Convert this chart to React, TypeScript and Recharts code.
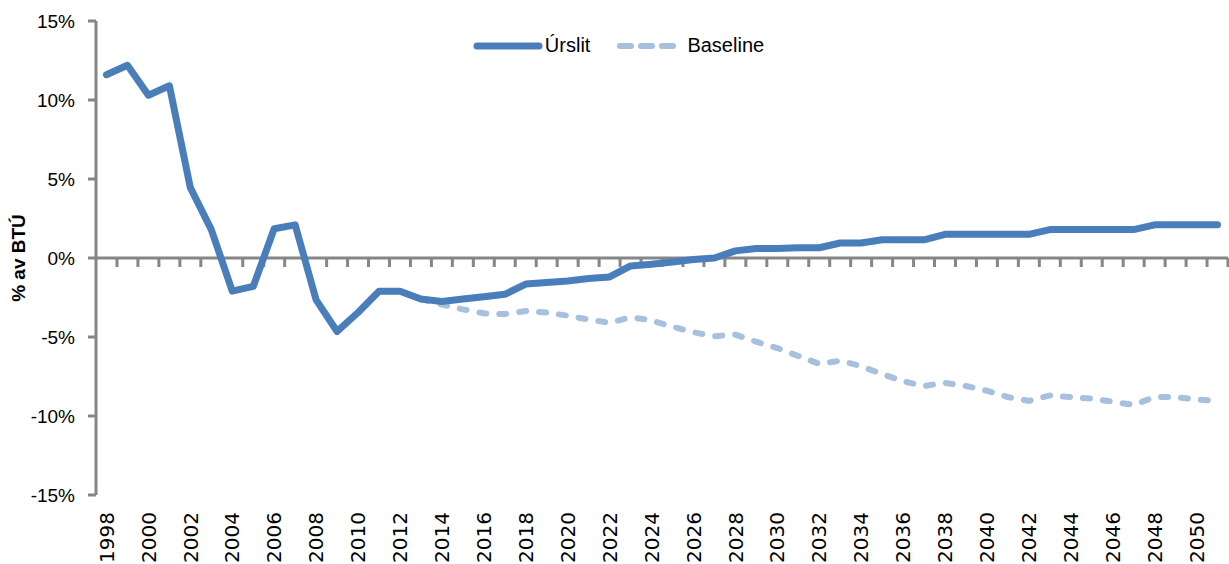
import { LineChart, Line, XAxis, YAxis, ReferenceLine, Legend } from 'recharts';

const years = [
  '1998', '1999', '2000', '2001', '2002', '2003', '2004', '2005', '2006', '2007',
  '2008', '2009', '2010', '2011', '2012', '2013', '2014', '2015', '2016', '2017',
  '2018', '2019', '2020', '2021', '2022', '2023', '2024', '2025', '2026', '2027',
  '2028', '2029', '2030', '2031', '2032', '2033', '2034', '2035', '2036', '2037',
  '2038', '2039', '2040', '2041', '2042', '2043', '2044', '2045', '2046', '2047',
  '2048', '2049', '2050', '2051',
];

// Úrslit (solid)
const urslit = [
  11.6, 12.2, 10.3, 10.9, 4.45, 1.8, -2.1, -1.8, 1.85, 2.1,
  -2.65, -4.65, -3.45, -2.1, -2.1, -2.6, -2.75, -2.6, -2.45, -2.3,
  -1.65, -1.55, -1.45, -1.3, -1.2, -0.5, -0.4, -0.25, -0.1, 0.0,
  0.45, 0.6, 0.6, 0.65, 0.65, 0.95, 0.95, 1.15, 1.15, 1.15,
  1.5, 1.5, 1.5, 1.5, 1.5, 1.8, 1.8, 1.8, 1.8, 1.8,
  2.1, 2.1, 2.1, 2.1,
];

// Baseline (dashed), starts in 2013
const baseline = [
  null, null, null, null, null, null, null, null, null, null,
  null, null, null, null, null, -2.6, -2.95, -3.25, -3.5, -3.55,
  -3.35, -3.45, -3.65, -3.9, -4.1, -3.75, -3.95, -4.35, -4.7, -4.95,
  -4.85, -5.3, -5.7, -6.2, -6.7, -6.5, -6.85, -7.35, -7.8, -8.1,
  -7.9, -8.1, -8.4, -8.8, -9.05, -8.7, -8.8, -8.9, -9.1, -9.3,
  -8.8, -8.8, -8.95, -9.05,
];

const yTicks = [-15, -10, -5, 0, 5, 10, 15];

const SOLID = '#4a7ebb';
const DASHED = '#a7c0de';
const AXIS = '#868686';

const data = years.map((year, i) => ({ year, urslit: urslit[i], baseline: baseline[i] }));

// zero line with the category tick marks hanging below it
const ZeroAxis = (props: any) => {
  const { x1, y1, x2, y2 } = props;
  const left = Math.min(x1, x2);
  const right = Math.max(x1, x2);
  const n = years.length;
  const step = (right - left) / n;
  const marks = [];
  for (let k = 1; k <= n; k++) {
    const x = left + k * step;
    marks.push(<line key={k} x1={x} x2={x} y1={y1} y2={y1 + 9} stroke={AXIS} strokeWidth={3} />);
  }
  return (
    <g>
      <line x1={left - 1} y1={y1} x2={right} y2={y2} stroke={AXIS} strokeWidth={3} />
      {marks}
    </g>
  );
};

const YearTick = (props: any) => {
  const { x, y, payload } = props;
  return (
    <text
      transform={`translate(${x},${y + 17}) rotate(-90)`}
      textAnchor="end"
      dy="0.36em"
      fontSize={20}
      fontFamily="DejaVu Sans"
      fill="#000"
    >
      {payload.value}
    </text>
  );
};

const YLabel = (props: any) => {
  const { viewBox } = props;
  const cx = viewBox.x + 18;
  const cy = viewBox.y + viewBox.height / 2;
  return (
    <text
      transform={`translate(${cx},${cy}) rotate(-90)`}
      textAnchor="middle"
      dy="0.36em"
      fontSize={19}
      fontWeight="bold"
      fontFamily="Liberation Sans"
      fill="#000"
    >
      % av BTÚ
    </text>
  );
};

const renderLegend = () => (
  <div
    style={{
      display: 'flex',
      justifyContent: 'center',
      alignItems: 'center',
      fontFamily: 'Liberation Sans',
      fontSize: 20,
      color: '#000',
      paddingLeft: 8,
    }}
  >
    <svg width={70} height={12}>
      <line x1={4} y1={6} x2={66} y2={6} stroke={SOLID} strokeWidth={7} strokeLinecap="round" />
    </svg>
    <span style={{ marginLeft: 2, marginRight: 26 }}>Úrslit</span>
    <svg width={64} height={12}>
      <line x1={4} y1={6} x2={60} y2={6} stroke={DASHED} strokeWidth={6} strokeLinecap="round" strokeDasharray="11 10" />
    </svg>
    <span style={{ marginLeft: 7 }}>Baseline</span>
  </div>
);

export default function App() {
  return (
    <div style={{ position: 'absolute', left: 0, top: 0, background: '#fff' }}>
      <LineChart width={1229} height={564} data={data} margin={{ top: 21, right: 1, left: 0, bottom: 0 }}>
        <XAxis
          dataKey="year"
          height={69}
          axisLine={false}
          tickLine={false}
          tickSize={0}
          tickMargin={0}
          interval={1}
          padding={{ left: 10.5, right: 10.5 }}
          tick={<YearTick />}
        />
        <YAxis
          width={96}
          domain={[-15, 15]}
          ticks={yTicks}
          tickFormatter={(v: number) => `${v}%`}
          axisLine={{ stroke: AXIS, strokeWidth: 3 }}
          tickLine={{ stroke: AXIS, strokeWidth: 3 }}
          tickSize={8}
          tickMargin={13}
          tick={{ fill: '#000', fontSize: 19, fontFamily: 'Liberation Sans' }}
          label={<YLabel />}
        />
        <ReferenceLine y={0} shape={<ZeroAxis />} />
        <Legend
          layout="horizontal"
          verticalAlign="middle"
          align="center"
          content={renderLegend}
          wrapperStyle={{ top: 34, left: 0, width: 1229 }}
        />
        <Line
          dataKey="baseline"
          stroke={DASHED}
          strokeWidth={6}
          strokeDasharray="7 13"
          strokeLinecap="round"
          dot={false}
          activeDot={false}
          isAnimationActive={false}
        />
        <Line
          dataKey="urslit"
          stroke={SOLID}
          strokeWidth={7}
          strokeLinecap="round"
          strokeLinejoin="round"
          dot={false}
          activeDot={false}
          isAnimationActive={false}
        />
      </LineChart>
    </div>
  );
}
